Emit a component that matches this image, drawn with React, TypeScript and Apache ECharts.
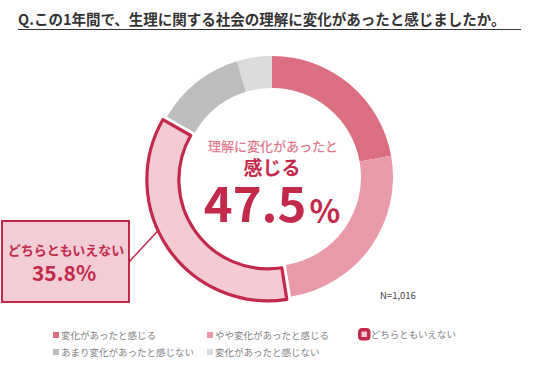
import React, { useEffect, useRef } from "react";
import * as echarts from "echarts";

const title = "Q.この1年間で、生理に関する社会の理解に変化があったと感じましたか。";
const categories = [
  "変化があったと感じる",
  "やや変化があったと感じる",
  "どちらともいえない",
  "あまり変化があったと感じない",
  "変化があったと感じない",
];
const values = [22.2, 25.3, 35.8, 12.0, 4.7];
const colors = ["#dc6e82", "#e99aa8", "#f2cbd3", "#bdbdbd", "#dcdcdc"];
const highlightIndex = 2;
const centerLine1 = "理解に変化があったと";
const centerLine2 = "感じる";
const centerValue = "47.5";
const sampleNote = "N=1,016";

const FONT = "'Noto Sans CJK JP', 'Noto Sans', sans-serif";
const DARK = "#c3294b";

export default function App() {
  const ref = useRef<HTMLDivElement>(null);
  useEffect(() => {
    if (!ref.current) return;
    const chart = echarts.init(ref.current, undefined, { renderer: "svg" });
    const data = categories.map((name, i) => {
      const item: any = {
        name,
        value: values[i],
        itemStyle: { color: colors[i], borderWidth: 0 },
      };
      if (i === highlightIndex) {
        item.selected = true;
        item.itemStyle = { color: colors[i], borderColor: DARK, borderWidth: 3.2 };
        item.select = { itemStyle: { color: colors[i], borderColor: DARK, borderWidth: 3.2 } };
      }
      return item;
    });
    const legendText = { color: "#808080", fontSize: 9.5, fontFamily: FONT, lineHeight: 12, padding: [0, 0, 0, -3] };
    const mkLegend = (names: string[], left: number, w: number, extra: any = {}) => ({
      orient: "vertical",
      left,
      top: 324,
      itemGap: 5,
      itemWidth: w,
      itemHeight: w,
      selectedMode: false,
      icon: "rect",
      textStyle: legendText,
      data: names.map((n) => {
        const i = categories.indexOf(n);
        return i === highlightIndex
          ? { name: n, icon: "roundRect", itemStyle: { color: colors[i], borderColor: DARK, borderWidth: 3.5 } }
          : { name: n, itemStyle: { color: colors[i], borderWidth: 0 } };
      }),
      ...extra,
    });
    chart.setOption({
      animation: false,
      backgroundColor: "#ffffff",
      legend: [
        mkLegend([categories[0], categories[3]], 48, 6),
        mkLegend([categories[1], categories[4]], 202, 6),
        mkLegend([categories[2]], 353, 9, { top: 323 }),
      ],
      series: [
        {
          type: "pie",
          center: [272, 177],
          radius: [89, 121],
          startAngle: 90,
          clockwise: true,
          selectedMode: "single",
          selectedOffset: 5,
          silent: true,
          label: { show: false },
          labelLine: { show: false },
          emphasis: { disabled: true },
          data,
        },
      ],
      graphic: [
        {
          type: "text",
          left: 18,
          top: 11,
          style: { text: title, fill: "#333333", font: `bold 14.5px ${FONT}` },
        },
        {
          type: "line",
          shape: { x1: 18, y1: 29.5, x2: 521, y2: 29.5 },
          style: { stroke: "#333333", lineWidth: 1.2 },
        },
        {
          type: "text",
          x: 273,
          y: 145,
          style: { text: centerLine1, fill: "#e27a8f", font: `500 13px ${FONT}`, align: "center", verticalAlign: "middle" },
        },
        {
          type: "text",
          x: 272,
          y: 166,
          style: { text: centerLine2, fill: DARK, font: `bold 19px ${FONT}`, align: "center", verticalAlign: "middle" },
        },
        {
          type: "text",
          x: 272,
          y: 225,
          style: {
            text: `{a|${centerValue}}{b|%}`,
            align: "center",
            verticalAlign: "bottom",
            rich: {
              a: { fill: DARK, fontSize: 49, fontWeight: "bold", fontFamily: FONT, verticalAlign: "bottom", lineHeight: 38 },
              b: { fill: DARK, fontSize: 32, fontWeight: "bold", fontFamily: FONT, verticalAlign: "bottom", lineHeight: 38, padding: [0, 0, 0, 3] },
            },
          },
        },
        {
          type: "line",
          shape: { x1: 129, y1: 262, x2: 166, y2: 222 },
          style: { stroke: DARK, lineWidth: 1.5 },
        },
        {
          type: "rect",
          shape: { x: 2, y: 221, width: 127, height: 81 },
          style: { fill: "#f2cdd5", stroke: DARK, lineWidth: 2 },
        },
        {
          type: "text",
          x: 66,
          y: 249,
          style: { text: categories[highlightIndex], fill: DARK, font: `bold 13px ${FONT}`, align: "center", verticalAlign: "middle" },
        },
        {
          type: "text",
          x: 64,
          y: 272,
          style: { text: `${values[highlightIndex]}%`, fill: DARK, font: `bold 21px ${FONT}`, align: "center", verticalAlign: "middle" },
        },
        {
          type: "text",
          x: 380,
          y: 295,
          style: { text: sampleNote, fill: "#444444", font: `9.5px ${FONT}`, verticalAlign: "middle" },
        },
      ],
    });
    return () => chart.dispose();
  }, []);
  return <div ref={ref} style={{ width: 536, height: 373, position: "absolute", left: 0, top: 0 }} />;
}
